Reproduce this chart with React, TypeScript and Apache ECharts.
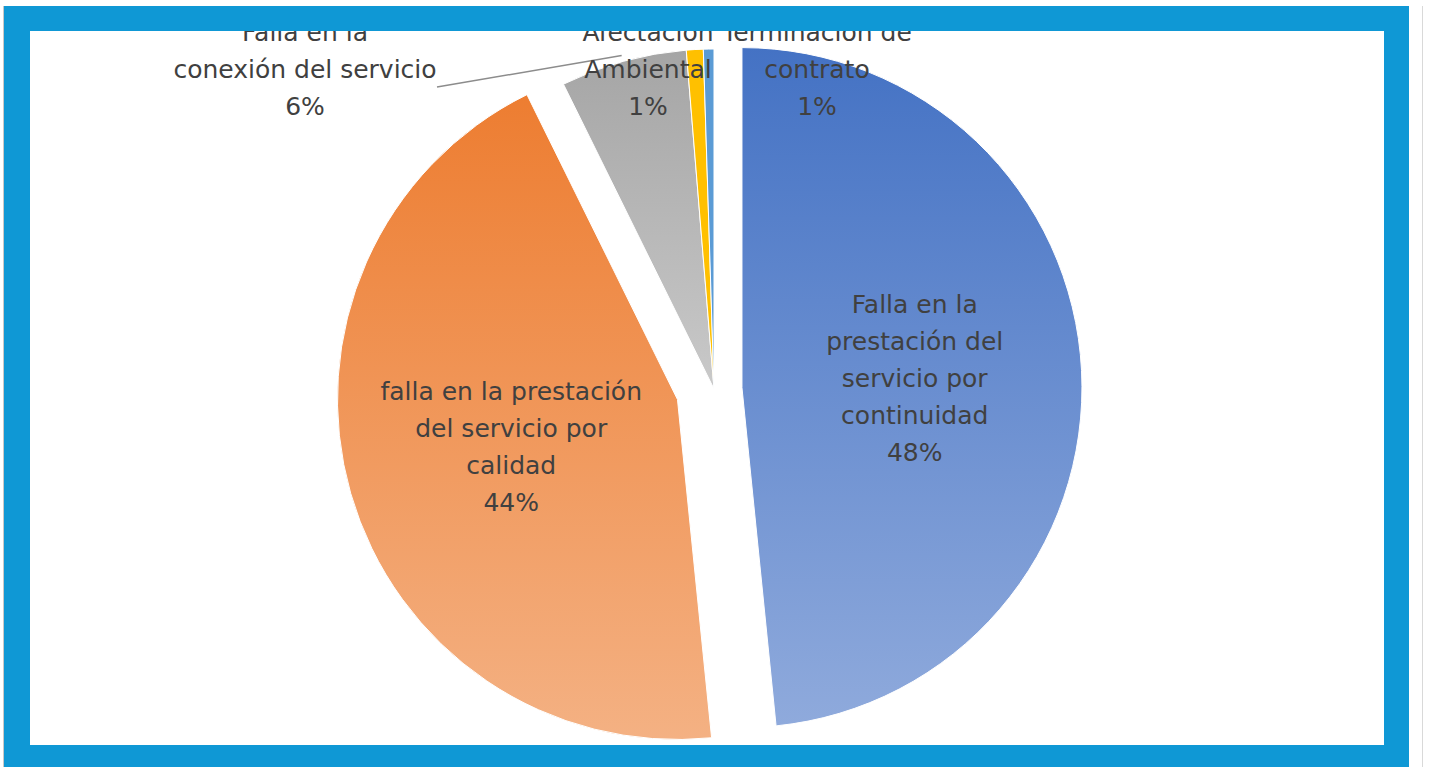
import React, { useEffect, useRef } from "react";
import * as echarts from "echarts";

// ---- data ----
const categories = [
  "Falla en la\nprestación del\nservicio por\ncontinuidad",
  "falla en la prestación\ndel servicio por\ncalidad",
  "Falla en la\nconexión del servicio",
  "Afectación\nAmbiental",
  "Terminación de\ncontrato",
];
const values = [48.4, 44.3, 6.0, 0.8, 0.5];

// ---- layout / style ----
const EXPLODE = [28, 38, 0, 0, 0];
const CX = 714;
const CY = 389;
const R = 340;
const OUTSIDE_LABEL: ({ x: number; y: number } | null)[] = [
  null,
  null,
  { x: 305, y: 69 },
  { x: 648, y: 69 },
  { x: 817, y: 69 },
];
const FRAME = "#0f98d5";

const grad = (a: string, b: string) => ({
  type: "linear",
  x: 0,
  y: 0,
  x2: 0,
  y2: 1,
  colorStops: [
    { offset: 0, color: a },
    { offset: 1, color: b },
  ],
});
const COLORS: any[] = [
  grad("#4472c4", "#8faadc"),
  grad("#ed7d31", "#f4b183"),
  grad("#a5a5a5", "#c9c9c9"),
  "#ffc000",
  "#5b9bd5",
];

export default function App() {
  const ref = useRef<HTMLDivElement>(null);
  useEffect(() => {
    if (!ref.current) return;
    const chart = echarts.init(ref.current, undefined, { renderer: "svg" });
    const total = values.reduce((a, b) => a + b, 0);
    let acc = 0;
    const mids = values.map((v) => {
      const a0 = acc;
      acc += (v / total) * 360;
      return (a0 + acc) / 2;
    });
    const rad = (d: number) => (d * Math.PI) / 180;
    const centers = mids.map((m, i) => [
      CX + EXPLODE[i] * Math.sin(rad(m)),
      CY - EXPLODE[i] * Math.cos(rad(m)),
    ]);

    const series = values.map((_, i) => {
      const lp = OUTSIDE_LABEL[i];
      const c = centers[i];
      return {
        type: "pie",
        silent: true,
        startAngle: 90,
        clockwise: true,
        radius: R,
        center: c,
        percentPrecision: 0,
        avoidLabelOverlap: false,
        emphasis: { disabled: true },
        label: {
          position: i < 2 ? "inside" : "outside",
          formatter: "{b}\n{d}%",
          fontFamily: "DejaVu Sans",
          fontSize: 25,
          lineHeight: 37,
          color: "#404040",
          align: "center",
        },
        labelLine: {
          show: i === 2,
          lineStyle: { color: "#8c8c8c", width: 1.5 },
          length: 10,
          length2: 10,
        },
        labelLayout: lp
          ? () => {
              const out: any = {
                x: lp.x,
                y: lp.y,
                align: "center",
                verticalAlign: "middle",
              };
              if (i === 2) {
                const m = rad(mids[i]);
                const start = [c[0] + (R + 6) * Math.sin(m), c[1] - (R + 6) * Math.cos(m)];
                const end = [lp.x + 132, lp.y + 18];
                out.labelLinePoints = [start, end, end];
              }
              return out;
            }
          : undefined,
        data: categories.map((name, j) => ({
          name,
          value: values[j],
          itemStyle:
            j === i
              ? { color: COLORS[j], borderColor: "#ffffff", borderWidth: 1 }
              : { color: "transparent", borderWidth: 0 },
          label: { show: j === i },
          labelLine: { show: j === i && i === 2 },
        })),
      };
    });

    chart.setOption({
      animation: false,
      backgroundColor: "#ffffff",
      series,
      graphic: [
        { type: "rect", z: 100, silent: true, shape: { x: 4, y: 6, width: 1405, height: 25 }, style: { fill: FRAME } },
        { type: "rect", z: 100, silent: true, shape: { x: 4, y: 745, width: 1405, height: 22 }, style: { fill: FRAME } },
        { type: "rect", z: 100, silent: true, shape: { x: 4, y: 6, width: 26, height: 761 }, style: { fill: FRAME } },
        { type: "rect", z: 100, silent: true, shape: { x: 1384, y: 6, width: 25, height: 761 }, style: { fill: FRAME } },
        { type: "rect", z: 100, silent: true, shape: { x: 3, y: 6, width: 1, height: 761 }, style: { fill: "#c8c8c8" } },
        { type: "rect", z: 100, silent: true, shape: { x: 1422, y: 6, width: 1, height: 761 }, style: { fill: "#d9d9d9" } },
      ],
    });
    return () => chart.dispose();
  }, []);
  return (
    <div
      ref={ref}
      style={{ position: "fixed", left: 0, top: 0, width: 1430, height: 767 }}
    />
  );
}
